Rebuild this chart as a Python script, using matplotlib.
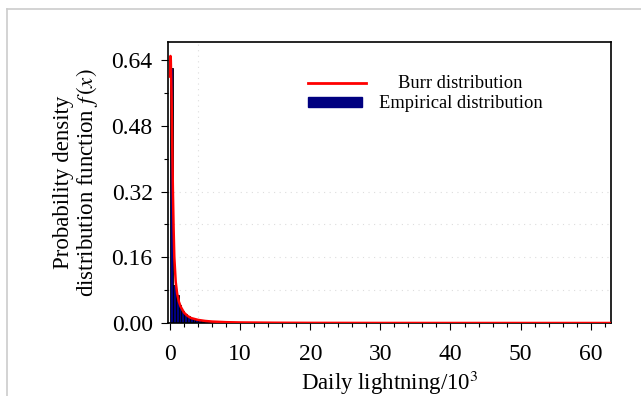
""" Burr fit vs empirical daily lightning distribution. """
import matplotlib
matplotlib.use("Agg")
import matplotlib.pyplot as plt
from matplotlib.patches import Rectangle
from matplotlib.lines import Line2D
from matplotlib.ticker import MultipleLocator

plt.rcParams["font.family"] = ["Liberation Serif", "DejaVu Serif"]
plt.rcParams["mathtext.fontset"] = "stix"

# empirical histogram (bin width 0.4, in 10^3 lightning)
bin_width = 0.4
bin_left = [0.0, 0.4, 0.8, 1.2, 1.6, 2.0, 2.4, 2.8, 3.2, 3.6, 4.0, 4.4, 4.8,
            5.2, 5.6, 6.0, 6.4, 6.8, 7.2, 7.6, 8.0, 9.0, 10.0, 11.0, 12.0,
            13.0, 14.0, 15.0, 16.0]
emp_density = [0.62, 0.092, 0.068, 0.044, 0.028, 0.021, 0.016, 0.012, 0.010,
               0.008, 0.007, 0.006, 0.005, 0.005, 0.006, 0.004, 0.003, 0.003,
               0.003, 0.002, 0.002, 0.002, 0.003, 0.002, 0.001, 0.001, 0.001,
               0.003, 0.001]

# Burr pdf
burr_x = [0.0, 0.05, 0.1, 0.2, 0.3, 0.4, 0.5, 0.6, 0.8, 1.0, 1.25, 1.5, 2.0,
          2.5, 3.0, 4.0, 5.0, 6.0, 8.0, 10.0, 15.0, 20.0, 30.0, 40.0, 63.0]
burr_y = [0.60, 0.65, 0.64, 0.56, 0.44, 0.32, 0.23, 0.16, 0.10, 0.072, 0.052,
          0.040, 0.025, 0.017, 0.012, 0.0075, 0.005, 0.0035, 0.002, 0.0013,
          0.0006, 0.0003, 0.0001, 0.00005, 0.0]

x_ticks = [0, 10, 20, 30, 40, 50, 60]
y_ticks = [0.00, 0.16, 0.32, 0.48, 0.64]

fig = plt.figure(figsize=(6.41, 3.96), dpi=100)
ax = fig.add_axes([168 / 641, 1 - 323 / 396, 443 / 641, 281 / 396])

# light gray frame around the figure
fig.add_artist(Line2D([7 / 641, 1], [1 - 9 / 396, 1 - 9 / 396], color="#cccccc", lw=1.2))
fig.add_artist(Line2D([7 / 641, 7 / 641], [0, 1 - 9 / 396], color="#cccccc", lw=1.2))

ax.bar(bin_left, emp_density, width=bin_width, align="edge",
       color="#000080", edgecolor="black", linewidth=0.6, zorder=2)
ax.plot(burr_x, burr_y, color="red", lw=1.8, zorder=3)

ax.set_xlim(-0.3, 62.9)
ax.set_ylim(0, 0.684)
ax.set_xticks(x_ticks)
ax.set_yticks(y_ticks)
ax.set_yticklabels([f"{v:.2f}" for v in y_ticks])
ax.xaxis.set_minor_locator(MultipleLocator(2))
ax.yaxis.set_minor_locator(MultipleLocator(0.08))
ax.tick_params(which="both", direction="out", labelsize=17, width=0.8)
ax.tick_params(which="major", length=5)
ax.tick_params(which="minor", length=3)
ax.tick_params(axis="x", pad=10)
ax.tick_params(axis="y", pad=6)

# faint dotted grid
for gy in [0.08, 0.16, 0.24, 0.32]:
    ax.axhline(gy, color="#dddddd", lw=0.8, ls=(0, (1, 4)), zorder=1)
ax.axvline(4, color="#dddddd", lw=0.8, ls=(0, (1, 4)), zorder=1)

for s in ax.spines.values():
    s.set_linewidth(1.2)

ax.set_xlabel(r"Daily lightning/10$^3$", fontsize=16.5, labelpad=3)
ax.set_ylabel("Probability density\n" + r"distribution function $f\,(x)$",
              fontsize=16.5, labelpad=8, linespacing=1.0)

# legend drawn by hand to centre the labels
ax.add_line(Line2D([0.315, 0.447], [0.855, 0.855], transform=ax.transAxes,
                   color="red", lw=2))
ax.add_patch(Rectangle((0.317, 0.767), 0.122, 0.037, transform=ax.transAxes,
                       color="#000080"))
ax.text(0.66, 0.852, "Burr distribution", transform=ax.transAxes,
        ha="center", va="center", fontsize=13.3)
ax.text(0.66, 0.782, "Empirical distribution", transform=ax.transAxes,
        ha="center", va="center", fontsize=13.3)

fig.savefig("out.png", dpi=100)
